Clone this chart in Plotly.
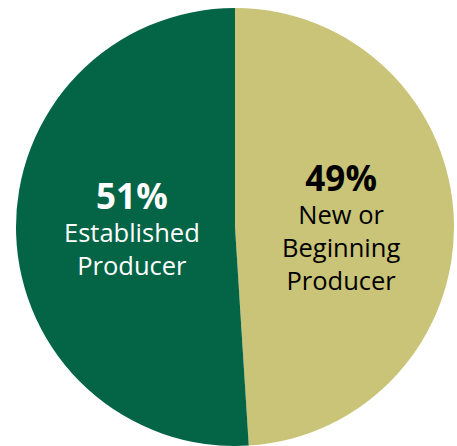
import plotly.graph_objects as go

labels = ["New or Beginning Producer", "Established Producer"]
values = [49, 51]
colors = ["#C9C477", "#036446"]
text_colors = ["#000000", "#FFFFFF"]
label_lines = [["New or", "Beginning", "Producer"], ["Established", "Producer"]]

W, H = 457, 446

fig = go.Figure(go.Pie(
    labels=labels,
    values=values,
    marker=dict(colors=colors, line=dict(width=0)),
    sort=False,
    direction="clockwise",
    rotation=0,
    textinfo="none",
    hoverinfo="label+percent",
    showlegend=False,
    domain=dict(x=[15.5 / W, 454.5 / W], y=[0, 1 - 8 / H]),
))

# label block positions (pixel centers from top-left)
block_x = [341, 132]
block_y = [225.5, 227]

annotations = []
total = sum(values)
for i in range(len(values)):
    pct = round(values[i] * 100 / total)
    txt = "<span style='font-size:35px'><b>%d%%</b></span><br>" % pct + "<br>".join(label_lines[i])
    annotations.append(dict(
        x=block_x[i] / W, y=1 - block_y[i] / H, xref="paper", yref="paper",
        text=txt, showarrow=False, xanchor="center", yanchor="middle", align="center",
        font=dict(family="Open Sans", size=25.5, color=text_colors[i]),
    ))

fig.update_layout(
    width=W, height=H,
    margin=dict(l=0, r=0, t=0, b=0),
    paper_bgcolor="white",
    annotations=annotations,
)

fig.write_html("out.html")
